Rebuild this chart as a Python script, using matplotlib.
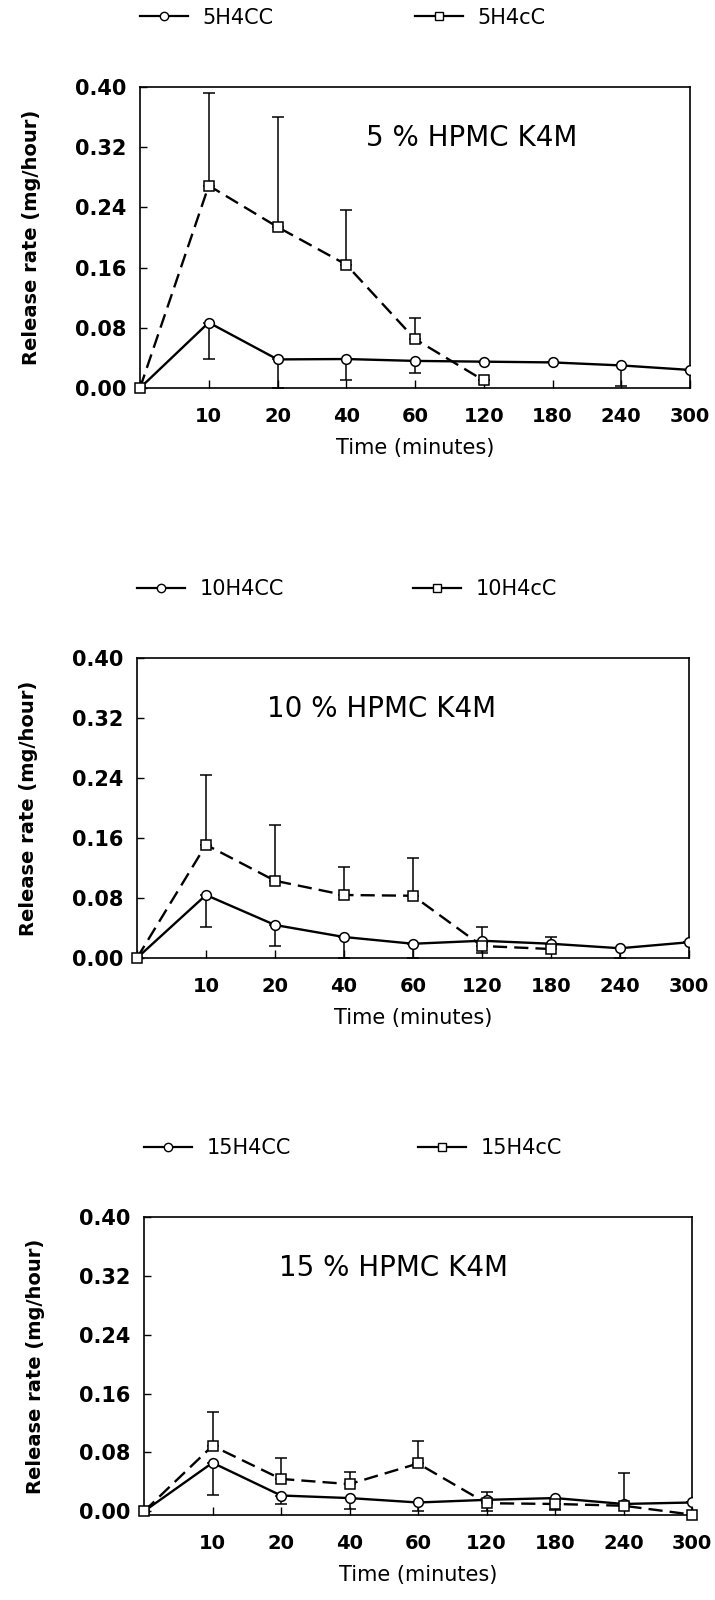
import numpy as np
import matplotlib
matplotlib.use('Agg')
import matplotlib.pyplot as plt
from matplotlib.lines import Line2D

plt.rcParams['font.family'] = ['DejaVu Sans']

# time points (position 0 = start, no label)
time_labels = ['', '10', '20', '40', '60', '120', '180', '240', '300']
y_ticks = [0.00, 0.08, 0.16, 0.24, 0.32, 0.40]

# 5 % HPMC K4M
rate_5cc = [0, 0.087, 0.038, 0.0385, 0.036, 0.035, 0.034, 0.030, 0.024]
err_5cc = [0, 0.049, 0.038, 0.028, 0.016, 0, 0, 0.028, 0]
rate_5cC = [0, 0.269, 0.214, 0.164, 0.065, 0.010]
err_5cC = [0, 0.123, 0.146, 0.073, 0.028, 0]

# 10 % HPMC K4M
rate_10cc = [0, 0.084, 0.044, 0.028, 0.019, 0.023, 0.019, 0.013, 0.021]
err_10cc = [0, 0.042, 0.028, 0.028, 0.019, 0.016, 0, 0.013, 0]
rate_10cC = [0, 0.151, 0.103, 0.084, 0.083, 0.016, 0.012]
err_10cC = [0, 0.093, 0.074, 0.037, 0.050, 0.025, 0.016]

# 15 % HPMC K4M
rate_15cc = [0, 0.066, 0.0215, 0.018, 0.012, 0.0156, 0.018, 0.010, 0.012]
err_15cc = [0, 0.044, 0.0115, 0.015, 0.012, 0.0156, 0.016, 0, 0]
rate_15cC = [0, 0.089, 0.044, 0.037, 0.065, 0.011, 0.010, 0.0076, -0.0045]
err_15cC = [0, 0.046, 0.029, 0.016, 0.030, 0.015, 0.008, 0.045, 0]

fig = plt.figure(figsize=(7.15, 16), dpi=100)

# axes boxes in pixels: left, top, right, bottom
boxes = [(140, 87, 690, 388), (137, 658, 689, 958), (144, 1217, 692, 1515)]
W, H = 715, 1600


def draw_panel(box, cc, cc_err, cC, cC_err, name_cc, name_cC, title, tx, ybot):
    l, t, r, b = box
    ax = fig.add_axes([l / W, (H - b) / H, (r - l) / W, (b - t) / H])

    pos_cc = np.arange(len(cc))
    pos_cC = np.arange(len(cC))

    ax.errorbar(pos_cc, cc, yerr=[cc_err, np.zeros(len(cc))], fmt='none',
                ecolor='black', elinewidth=1.1, capsize=4, capthick=1.1, zorder=2)
    ax.plot(pos_cc, cc, '-', color='black', lw=1.7, marker='o', ms=7,
            mfc='white', mec='black', mew=1.1, zorder=3)

    ax.errorbar(pos_cC, cC, yerr=[np.zeros(len(cC)), cC_err], fmt='none',
                ecolor='black', elinewidth=1.1, capsize=4, capthick=1.1, zorder=2)
    ax.plot(pos_cC, cC, color='black', lw=1.7, ls=(0, (6, 3)), marker='s', ms=7,
            mfc='white', mec='black', mew=1.1, zorder=4, clip_on=False)

    ax.set_xlim(0, 8)
    ax.set_ylim(ybot, 0.40)
    ax.set_xticks(range(len(time_labels)))
    ax.set_xticklabels(time_labels, fontsize=14, fontweight='bold')
    ax.set_yticks(y_ticks)
    ax.set_yticklabels(['%.2f' % v for v in y_ticks], fontsize=15, fontweight='bold')
    ax.tick_params(axis='x', direction='in', length=6, width=1, pad=14)
    ax.tick_params(axis='y', direction='in', length=5, width=1, pad=10)
    for s in ax.spines.values():
        s.set_linewidth(1.2)

    ax.set_xlabel('Time (minutes)', fontsize=15, labelpad=8)
    ax.set_ylabel('Release rate (mg/hour)', fontsize=14, fontweight='bold')
    ax.yaxis.set_label_coords(-0.18, 0.5)

    ax.text(tx, 0.83, title, transform=ax.transAxes, fontsize=20,
            ha='left', va='center')

    h1 = Line2D([], [], color='black', lw=1.6, marker='o', ms=6,
                mfc='white', mec='black', mew=1.0)
    h2 = Line2D([], [], color='black', lw=1.6, marker='s', ms=6,
                mfc='white', mec='black', mew=1.0)
    leg1 = ax.legend([h1], [name_cc], loc='center left', bbox_to_anchor=(0, 1.23),
                     frameon=False, fontsize=15, handlelength=2.3, handletextpad=0.7,
                     borderpad=0, borderaxespad=0)
    ax.add_artist(leg1)
    ax.legend([h2], [name_cC], loc='center left', bbox_to_anchor=(0.5, 1.23),
              frameon=False, fontsize=15, handlelength=2.3, handletextpad=0.7,
              borderpad=0, borderaxespad=0)
    return ax


draw_panel(boxes[0], rate_5cc, err_5cc, rate_5cC, err_5cC,
           '5H4CC', '5H4cC', '5 % HPMC K4M', 0.41, 0)
draw_panel(boxes[1], rate_10cc, err_10cc, rate_10cC, err_10cC,
           '10H4CC', '10H4cC', '10 % HPMC K4M', 0.236, 0)
draw_panel(boxes[2], rate_15cc, err_15cc, rate_15cC, err_15cC,
           '15H4CC', '15H4cC', '15 % HPMC K4M', 0.246, -0.005)

fig.savefig('out.png', dpi=100, facecolor='white')
